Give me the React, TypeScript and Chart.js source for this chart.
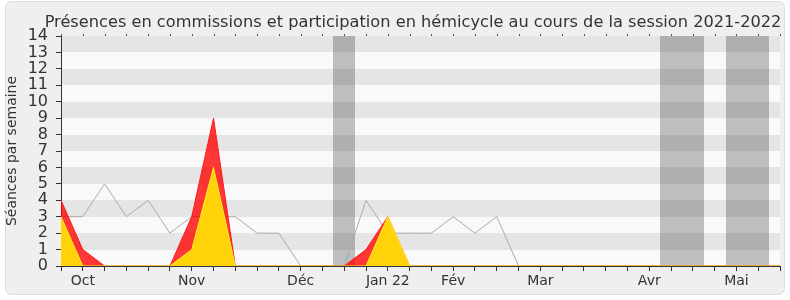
import React, { useEffect, useRef } from 'react';
import { Chart, registerables } from 'chart.js';

Chart.register(...registerables);

const TITLE = 'Présences en commissions et participation en hémicycle au cours de la session 2021-2022';
const Y_TITLE = 'Séances par semaine';
const FONT = "'DejaVu Sans', Verdana, sans-serif";

// One value per week of the session (week 0 = late September 2021)
const commissionPresences = [4, 1, 0, 0, 0, 0, 3, 9, 0, 0, 0, 0, 0, 0, 1, 3, 0, 0, 0, 0, 0, 0, 0, 0, 0, 0, 0, 0, 0, 0, 0, 0, 0, 0];
const commissionInterventions = [3, 0, 0, 0, 0, 0, 1, 6, 0, 0, 0, 0, 0, 0, 0, 3, 0, 0, 0, 0, 0, 0, 0, 0, 0, 0, 0, 0, 0, 0, 0, 0, 0, 0];
const hemicycleParticipation = [3, 3, 5, 3, 4, 2, 3, 3, 3, 2, 2, 0, 0, 0, 4, 2, 2, 2, 3, 2, 3, 0, 0, 0, 0, 0, 0, 0, 0, 0, 0, 0, 0, 0];

// Weeks without sittings (parliamentary recess)
const recessWeeks = [13, 28, 29, 31, 32];

// Month labels and the week they sit on
const monthWeeks = [1, 6, 11, 15, 18, 22, 27, 31];
const monthNames = ['Oct', 'Nov', 'Déc', 'Jan 22', 'Fév', 'Mar', 'Avr', 'Mai'];

const LAST_WEEK = 33;
const Y_MAX = 14;

const toPoints = (values: number[]) => values.map((v, i) => ({ x: i, y: v }));

const backgroundPlugin = {
  id: 'sessionBackground',
  beforeDraw(chart: any) {
    const { ctx, chartArea: a, scales } = chart;
    const xs = scales.x;
    const ys = scales.y;
    ctx.save();
    ctx.fillStyle = '#ffffff';
    ctx.fillRect(0, 0, chart.width, chart.height);

    // rounded frame
    ctx.beginPath();
    ctx.roundRect(5.5, 1.5, 779, 293, 6);
    ctx.fillStyle = '#efefef';
    ctx.fill();
    ctx.strokeStyle = '#dddddd';
    ctx.lineWidth = 1;
    ctx.stroke();

    // plot background
    ctx.fillStyle = '#f9f9f9';
    ctx.fillRect(a.left, a.top, a.right - a.left, a.bottom - a.top);

    // recess weeks
    ctx.fillStyle = '#bebebe';
    for (const w of recessWeeks) {
      const x0 = Math.round(xs.getPixelForValue(w - 0.5));
      const x1 = Math.round(xs.getPixelForValue(w + 0.5));
      ctx.fillRect(x0, a.top, x1 - x0, a.bottom - a.top);
    }

    // alternating horizontal stripes
    ctx.fillStyle = 'rgba(0,0,0,0.08)';
    for (let v = 1; v < Y_MAX; v += 2) {
      const y0 = Math.round(ys.getPixelForValue(v + 1));
      const y1 = Math.round(ys.getPixelForValue(v));
      ctx.fillRect(a.left, y0, a.right - a.left, y1 - y0);
    }

    // title
    ctx.fillStyle = '#333333';
    ctx.font = `16.2px ${FONT}`;
    ctx.textAlign = 'center';
    ctx.textBaseline = 'alphabetic';
    ctx.fillText(TITLE, 413, 27);
    ctx.restore();
  },
  afterDraw(chart: any) {
    // short week marks along the top edge of the plot
    const { ctx, chartArea: a, scales } = chart;
    ctx.save();
    ctx.strokeStyle = '#555555';
    ctx.lineWidth = 1;
    ctx.beginPath();
    for (const t of scales.x.ticks) {
      const px = Math.round(scales.x.getPixelForValue(t.value)) + 0.5;
      ctx.moveTo(px, a.top - 2);
      ctx.lineTo(px, a.top);
    }
    ctx.stroke();
    ctx.restore();
  },
};

export default function App() {
  const ref = useRef<HTMLCanvasElement>(null);

  useEffect(() => {
    document.body.style.margin = '0';
    const canvas = ref.current;
    if (!canvas) return;

    const chart = new Chart(canvas, {
      type: 'line',
      data: {
        datasets: [
          {
            label: 'Interventions en commission',
            data: toPoints(commissionInterventions),
            fill: 'origin',
            backgroundColor: '#ffd20a',
            borderColor: '#ffee22',
            borderWidth: 1,
            pointRadius: 0,
            tension: 0,
            order: 0,
          },
          {
            label: 'Présences en commission',
            data: toPoints(commissionPresences),
            fill: 'origin',
            backgroundColor: 'rgba(255,0,0,0.78)',
            borderColor: '#ff1a1a',
            borderWidth: 1,
            pointRadius: 0,
            tension: 0,
            order: 1,
          },
          {
            label: 'Participation en hémicycle',
            data: toPoints(hemicycleParticipation),
            fill: false,
            borderColor: '#aaaaaa',
            borderWidth: 1,
            pointRadius: 0,
            tension: 0,
            order: 2,
          },
        ],
      },
      options: {
        responsive: false,
        animation: false,
        devicePixelRatio: 1,
        layout: { padding: { top: 36, right: 10, bottom: 0, left: 0 } },
        plugins: {
          legend: { display: false },
          tooltip: { enabled: false },
          title: { display: false },
        },
        scales: {
          x: {
            type: 'linear',
            position: 'bottom',
            min: 0,
            max: LAST_WEEK,
            afterFit: (s: any) => {
              s.height = 34;
            },
            ticks: {
              stepSize: 1,
              autoSkip: false,
              maxRotation: 0,
              padding: 2,
              color: '#333333',
              font: { family: FONT, size: 14 },
              callback: (v: any) => {
                const i = monthWeeks.indexOf(Number(v));
                return i >= 0 ? monthNames[i] : '';
              },
            },
            grid: { drawOnChartArea: false, drawTicks: true, tickLength: 5, color: '#333333' },
            border: { display: true, color: '#333333' },
          },
          y: {
            type: 'linear',
            min: 0,
            max: Y_MAX,
            afterFit: (s: any) => {
              s.width = 61;
            },
            ticks: {
              stepSize: 1,
              autoSkip: false,
              padding: 8,
              color: '#333333',
              font: { family: FONT, size: 16 },
            },
            grid: { drawOnChartArea: false, drawTicks: true, tickLength: 5, color: '#333333' },
            border: { display: true, color: '#333333' },
            title: {
              display: true,
              text: Y_TITLE,
              color: '#333333',
              font: { family: FONT, size: 14 },
              padding: { top: 4, bottom: 0 },
            },
          },
        },
      },
      plugins: [backgroundPlugin],
    });

    return () => chart.destroy();
  }, []);

  return <canvas ref={ref} width={790} height={300} style={{ display: 'block', width: 790, height: 300 }} />;
}
